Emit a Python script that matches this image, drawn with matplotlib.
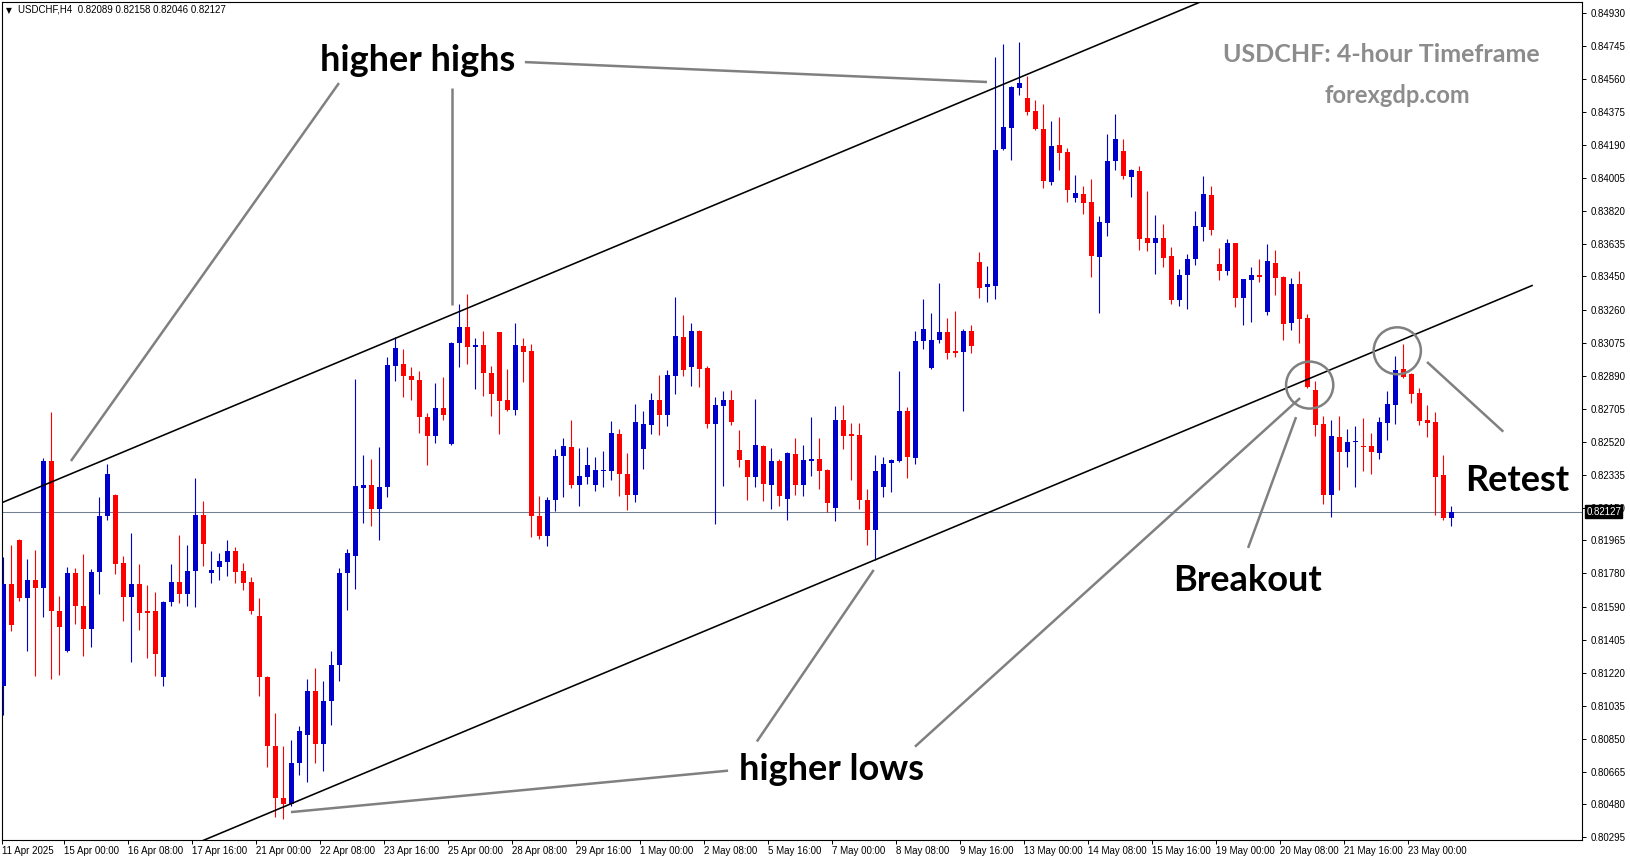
import matplotlib.pyplot as plt
from matplotlib.patches import Ellipse
from matplotlib.transforms import blended_transform_factory
import numpy as np

# USDCHF H4 candles (bar 0 = 11 Apr 16:00)
opens = [
    0.81148, 0.81720, 0.81967, 0.81643, 0.81742, 0.81699, 0.82412, 0.81570, 0.81343, 0.81782,
    0.81596, 0.81467, 0.81787, 0.82102, 0.82220, 0.81838, 0.81648, 0.81720, 0.81568, 0.81568,
    0.81195, 0.81620, 0.81731, 0.81665, 0.81793, 0.82108, 0.81783, 0.81817, 0.81845, 0.81905,
    0.81793, 0.81733, 0.81540, 0.81195, 0.80810, 0.80514, 0.80484, 0.80711, 0.80869, 0.81118,
    0.80822, 0.81062, 0.81264, 0.81783, 0.81877, 0.82262, 0.82276, 0.82144, 0.82266, 0.82949,
    0.82958, 0.82891, 0.82866, 0.82657, 0.82554, 0.82710, 0.82507, 0.83075, 0.83166, 0.83055,
    0.83065, 0.82909, 0.83136, 0.82755, 0.82701, 0.83059, 0.83031, 0.82104, 0.81992, 0.82192,
    0.82440, 0.82491, 0.82279, 0.82324, 0.82279, 0.82355, 0.82358, 0.82564, 0.82341, 0.82222,
    0.82479, 0.82614, 0.82755, 0.82672, 0.82890, 0.83109, 0.82941, 0.83143, 0.82935, 0.82620,
    0.82721, 0.82755, 0.82473, 0.82417, 0.82323, 0.82496, 0.82278, 0.82412, 0.82200, 0.82451,
    0.82278, 0.82412, 0.82423, 0.82361, 0.82149, 0.82642, 0.82563, 0.82558, 0.82194, 0.82025,
    0.82267, 0.82402, 0.82412, 0.82693, 0.82430, 0.83088, 0.82935, 0.83092, 0.83137, 0.83030,
    0.83027, 0.83143, 0.83531, 0.83392, 0.83398, 0.84167, 0.84285, 0.84512, 0.84453, 0.84380,
    0.84279, 0.83981, 0.84189, 0.84150, 0.83891, 0.83913, 0.83868, 0.83559, 0.83750, 0.84099,
    0.84155, 0.84009, 0.84043, 0.83666, 0.83638, 0.83666, 0.83565, 0.83317, 0.83458, 0.83548,
    0.83728, 0.83908, 0.83520, 0.83482, 0.83638, 0.83330, 0.83432, 0.83458, 0.83252, 0.83525,
    0.83447, 0.83190, 0.83407, 0.83216, 0.82813, 0.82620, 0.82222, 0.82547, 0.82462, 0.82518,
    0.82498, 0.82496, 0.82457, 0.82625, 0.82727, 0.82929, 0.82901, 0.82794, 0.82643, 0.82631,
    0.82335, 0.82089,
]
highs = [
    0.81874, 0.81939, 0.81975, 0.81860, 0.81911, 0.82427, 0.82687, 0.81652, 0.81815, 0.81810,
    0.81889, 0.81804, 0.82211, 0.82395, 0.82225, 0.81877, 0.82005, 0.81832, 0.81714, 0.81675,
    0.81626, 0.81834, 0.81995, 0.81939, 0.82316, 0.82187, 0.81905, 0.81894, 0.81967, 0.81928,
    0.81840, 0.81757, 0.81639, 0.81200, 0.80993, 0.80806, 0.80845, 0.80924, 0.81185, 0.81248,
    0.81175, 0.81343, 0.81808, 0.81917, 0.82874, 0.82445, 0.82424, 0.82491, 0.82996, 0.83110,
    0.83041, 0.82941, 0.82921, 0.82684, 0.82850, 0.82883, 0.83079, 0.83296, 0.83351, 0.83104,
    0.83144, 0.82946, 0.83140, 0.82929, 0.83188, 0.83102, 0.83070, 0.82215, 0.82207, 0.82479,
    0.82541, 0.82642, 0.82485, 0.82491, 0.82434, 0.82468, 0.82637, 0.82592, 0.82457, 0.82732,
    0.82693, 0.82794, 0.82896, 0.82924, 0.83334, 0.83233, 0.83188, 0.83149, 0.82946, 0.82772,
    0.82806, 0.82811, 0.82586, 0.82420, 0.82760, 0.82502, 0.82485, 0.82423, 0.82462, 0.82541,
    0.82502, 0.82659, 0.82541, 0.82367, 0.82721, 0.82727, 0.82625, 0.82625, 0.82254, 0.82445,
    0.82434, 0.82423, 0.82918, 0.82715, 0.83143, 0.83323, 0.83244, 0.83413, 0.83216, 0.83255,
    0.83154, 0.83177, 0.83587, 0.83508, 0.84684, 0.84757, 0.84520, 0.84768, 0.84577, 0.84442,
    0.84420, 0.84324, 0.84347, 0.84172, 0.84020, 0.83958, 0.83998, 0.83790, 0.84251, 0.84363,
    0.84223, 0.84054, 0.84071, 0.83930, 0.83795, 0.83745, 0.83615, 0.83493, 0.83576, 0.83818,
    0.84015, 0.83958, 0.83610, 0.83660, 0.83640, 0.83437, 0.83503, 0.83548, 0.83632, 0.83598,
    0.83450, 0.83441, 0.83480, 0.83238, 0.82863, 0.82665, 0.82642, 0.82665, 0.82592, 0.82608,
    0.82653, 0.82569, 0.82659, 0.82805, 0.83002, 0.83070, 0.82907, 0.82822, 0.82727, 0.82687,
    0.82447, 0.82158,
]
lows = [
    0.80983, 0.81457, 0.81626, 0.81345, 0.81204, 0.81536, 0.81187, 0.81208, 0.81339, 0.81495,
    0.81317, 0.81365, 0.81665, 0.82082, 0.81778, 0.81513, 0.81283, 0.81463, 0.81305, 0.81204,
    0.81148, 0.81598, 0.81615, 0.81598, 0.81592, 0.81823, 0.81727, 0.81742, 0.81765, 0.81727,
    0.81688, 0.81550, 0.81092, 0.80688, 0.80411, 0.80396, 0.80470, 0.80648, 0.80605, 0.80715,
    0.80668, 0.80928, 0.81177, 0.81575, 0.81694, 0.82065, 0.82049, 0.81970, 0.82207, 0.82864,
    0.82773, 0.82757, 0.82572, 0.82392, 0.82513, 0.82645, 0.82500, 0.82943, 0.82960, 0.82818,
    0.82779, 0.82667, 0.82566, 0.82693, 0.82671, 0.82858, 0.81986, 0.81975, 0.81936, 0.82132,
    0.82211, 0.82262, 0.82161, 0.82284, 0.82245, 0.82267, 0.82307, 0.82217, 0.82138, 0.82183,
    0.82369, 0.82564, 0.82558, 0.82609, 0.82789, 0.82890, 0.82834, 0.82828, 0.82597, 0.82057,
    0.82271, 0.82616, 0.82378, 0.82192, 0.82267, 0.82188, 0.82143, 0.82160, 0.82082, 0.82222,
    0.82217, 0.82329, 0.82256, 0.82127, 0.82076, 0.82479, 0.82307, 0.82143, 0.81941, 0.81857,
    0.82211, 0.82239, 0.82408, 0.82318, 0.82397, 0.83042, 0.82929, 0.83075, 0.82985, 0.82997,
    0.82693, 0.83020, 0.83330, 0.83308, 0.83325, 0.84161, 0.84105, 0.84470, 0.84360, 0.84273,
    0.83949, 0.83964, 0.84048, 0.83868, 0.83868, 0.83801, 0.83447, 0.83244, 0.83677, 0.84048,
    0.83998, 0.83897, 0.83598, 0.83593, 0.83463, 0.83503, 0.83295, 0.83283, 0.83267, 0.83514,
    0.83649, 0.83685, 0.83432, 0.83458, 0.83280, 0.83178, 0.83193, 0.83420, 0.83235, 0.83345,
    0.83094, 0.83150, 0.83077, 0.82824, 0.82554, 0.82172, 0.82098, 0.82250, 0.82378, 0.82267,
    0.82357, 0.82340, 0.82423, 0.82530, 0.82620, 0.82880, 0.82738, 0.82614, 0.82547, 0.82110,
    0.82080, 0.82046,
]
closes = [
    0.81720, 0.81489, 0.81643, 0.81742, 0.81699, 0.82412, 0.81570, 0.81480, 0.81782, 0.81596,
    0.81467, 0.81787, 0.82102, 0.82339, 0.81834, 0.81648, 0.81720, 0.81558, 0.81558, 0.81328,
    0.81620, 0.81731, 0.81665, 0.81793, 0.82108, 0.81947, 0.81798, 0.81849, 0.81905, 0.81789,
    0.81728, 0.81571, 0.81195, 0.80810, 0.80514, 0.80484, 0.80711, 0.80891, 0.81118, 0.80822,
    0.81062, 0.81264, 0.81783, 0.81895, 0.82272, 0.82276, 0.82144, 0.82266, 0.82953, 0.83045,
    0.82891, 0.82870, 0.82657, 0.82554, 0.82710, 0.82672, 0.83075, 0.83166, 0.83055, 0.83065,
    0.82909, 0.82791, 0.82751, 0.82701, 0.83064, 0.83027, 0.82104, 0.81992, 0.82192, 0.82440,
    0.82496, 0.82279, 0.82327, 0.82389, 0.82361, 0.82361, 0.82569, 0.82341, 0.82222, 0.82631,
    0.82620, 0.82755, 0.82672, 0.82896, 0.83115, 0.82924, 0.83143, 0.82929, 0.82620, 0.82727,
    0.82755, 0.82633, 0.82417, 0.82323, 0.82502, 0.82284, 0.82412, 0.82217, 0.82458, 0.82278,
    0.82417, 0.82423, 0.82357, 0.82177, 0.82642, 0.82554, 0.82554, 0.82194, 0.82025, 0.82355,
    0.82395, 0.82417, 0.82693, 0.82436, 0.83087, 0.83154, 0.83092, 0.83137, 0.83019, 0.83019,
    0.83143, 0.83060, 0.83387, 0.83407, 0.84161, 0.84290, 0.84515, 0.84538, 0.84377, 0.84279,
    0.83987, 0.84183, 0.84144, 0.83936, 0.83919, 0.83863, 0.83565, 0.83756, 0.84099, 0.84223,
    0.84015, 0.84048, 0.83660, 0.83638, 0.83666, 0.83553, 0.83317, 0.83458, 0.83548, 0.83733,
    0.83913, 0.83713, 0.83482, 0.83638, 0.83330, 0.83435, 0.83458, 0.83448, 0.83537, 0.83443,
    0.83184, 0.83407, 0.83212, 0.82826, 0.82616, 0.82222, 0.82554, 0.82462, 0.82518, 0.82524,
    0.82492, 0.82462, 0.82631, 0.82732, 0.82923, 0.82884, 0.82788, 0.82637, 0.82625, 0.82323,
    0.82089, 0.82127,
]

time_labels = [
    "11 Apr 2025", "15 Apr 00:00", "16 Apr 08:00", "17 Apr 16:00", "21 Apr 00:00",
    "22 Apr 08:00", "23 Apr 16:00", "25 Apr 00:00", "28 Apr 08:00", "29 Apr 16:00",
    "1 May 00:00", "2 May 08:00", "5 May 16:00", "7 May 00:00", "8 May 08:00",
    "9 May 16:00", "13 May 00:00", "14 May 08:00", "15 May 16:00", "19 May 00:00",
    "20 May 08:00", "21 May 16:00", "23 May 00:00",
]
price_ticks = [
    0.84930, 0.84745, 0.84560, 0.84375, 0.84190, 0.84005, 0.83820, 0.83635, 0.83450,
    0.83260, 0.83075, 0.82890, 0.82705, 0.82520, 0.82335, 0.82150, 0.81965, 0.81780,
    0.81590, 0.81405, 0.81220, 0.81035, 0.80850, 0.80665, 0.80480, 0.80295,
]
last_price = 0.82127
header = "USDCHF,H4  0.82089 0.82158 0.82046 0.82127"

# trend channel (bar index, price)
upper_channel = ([-1, 150], [0.82162, 0.85001])
lower_channel = ([24, 191.1], [0.80259, 0.83399])

# grey pointer lines (bar0, price0, bar1, price1)
pointers = [
    (41.96, 0.84538, 8.46, 0.82412),
    (56.1, 0.84510, 56.1, 0.83289),
    (65.2, 0.84656, 122.96, 0.84544),
    (90.6, 0.80670, 35.96, 0.80437),
    (94.2, 0.80834, 108.8, 0.81799),
    (113.96, 0.80805, 162.1, 0.82766),
    (155.6, 0.81923, 161.6, 0.82659),
    (177.97, 0.82969, 187.5, 0.82577),
]
circles = [(163.3, 0.82839), (174.25, 0.83032)]

labels = [
    ("higher highs", 51.84, 0.84606),
    ("higher lows", 103.5, 0.80618),
    ("Breakout", 155.5, 0.81681),
    ("Retest", 189.2, 0.82243),
]

W, H = 1631, 861
fig = plt.figure(figsize=(W / 100, H / 100), dpi=100)
ax = fig.add_axes([2 / W, 1 - 840 / H, 1580 / W, 838 / H])

opens_a = np.array(opens)
closes_a = np.array(closes)
x = np.arange(len(opens))
up = closes_a >= opens_a
colors = np.where(up, "#0000CD", "#FF0000")

ax.axhline(last_price, color="#708090", lw=0.75, zorder=1)

ax.vlines(x, lows, highs, colors=colors, lw=0.8, zorder=2)
body_lo = np.minimum(opens_a, closes_a)
body_h = np.maximum(np.abs(closes_a - opens_a), 0.00004)
ax.bar(x, body_h, bottom=body_lo, width=0.62, color=colors, lw=0, zorder=3)

ax.plot(*upper_channel, color="black", lw=1.15, zorder=4)
ax.plot(*lower_channel, color="black", lw=1.15, zorder=4)

for x0, y0, x1, y1 in pointers:
    ax.plot([x0, x1], [y0, y1], color="#808080", lw=1.8, zorder=5, solid_capstyle="butt")
for cx, cy in circles:
    ax.add_patch(Ellipse((cx, cy), 5.9, 0.00264, fill=False, ec="#808080", lw=1.8, zorder=5))

for txt, lx, ly in labels:
    ax.text(lx, ly, txt, ha="center", va="baseline", fontsize=26, family="Lato",
            weight="bold", color="black", zorder=6)

ax.text(172.3, 0.84656, "USDCHF: 4-hour Timeframe", ha="center", va="baseline",
        fontsize=18, family="Lato", weight="bold", color="#8c8c8c", zorder=6)
ax.text(174.3, 0.84426, "forexgdp.com", ha="center", va="baseline",
        fontsize=17, family="Lato", weight="bold", color="#8c8c8c", zorder=6)

ax.set_xlim(-0.16, 197.34)
ax.set_ylim(0.80280, 0.84994)

tick_bars = [max(8 * i - 0.4, -0.1) for i in range(len(time_labels))]
ax.set_xticks(tick_bars)
ax.set_xticklabels(time_labels, family="Liberation Sans", fontsize=7)
for lbl in ax.get_xticklabels():
    lbl.set_ha("left")
ax.tick_params(axis="x", direction="out", length=3, width=0.7, pad=1.5)

ax.yaxis.tick_right()
ax.set_yticks(price_ticks)
ax.set_yticklabels(["%.5f" % p for p in price_ticks], family="Liberation Sans", fontsize=7)
ax.tick_params(axis="y", direction="out", length=3, width=0.7, pad=3)

for sp in ax.spines.values():
    sp.set_color("black")
    sp.set_linewidth(0.8)

# current price tag sits over the 0.82150 label, as in the terminal
trans = blended_transform_factory(ax.transAxes, ax.transData)
ax.text(1.0028, last_price, "%.5f" % last_price, transform=trans, ha="left", va="center",
        fontsize=7, family="Liberation Sans", color="white", zorder=10, clip_on=False,
        bbox=dict(boxstyle="square,pad=0.12", fc="black", ec="black"))

fig.text(6 / W, 1 - 11 / H, "\u25bc", fontsize=5.5, va="center", ha="left", color="black")
fig.text(18 / W, 1 - 10 / H, header, fontsize=7, family="Liberation Sans", va="center",
         ha="left", color="black")

fig.savefig("out.png", dpi=100, facecolor="white")
